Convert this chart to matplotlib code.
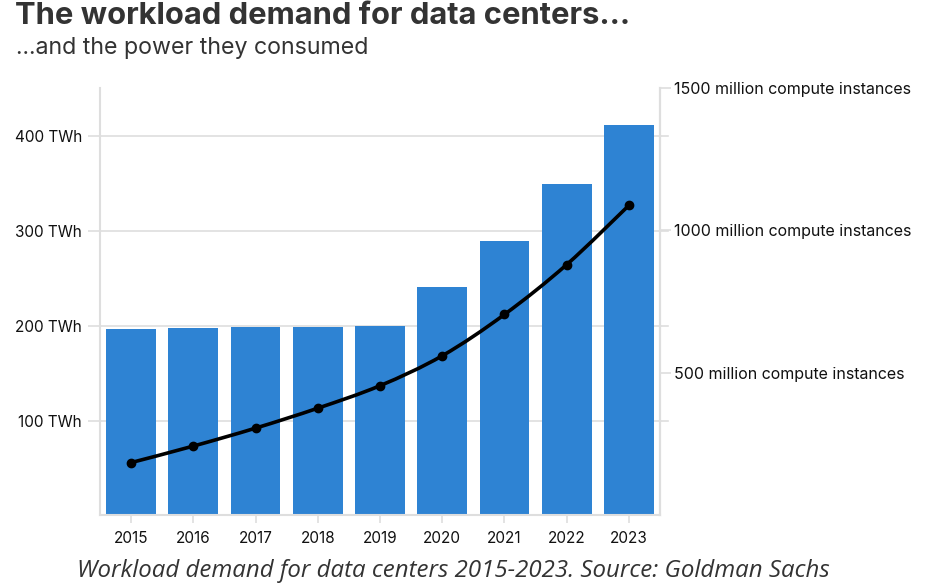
import matplotlib
matplotlib.use("Agg")
import matplotlib.pyplot as plt
import numpy as np
from matplotlib.path import Path
from matplotlib.patches import PathPatch

years = ["2015", "2016", "2017", "2018", "2019", "2020", "2021", "2022", "2023"]
power_twh = [197, 198, 199, 199, 200, 241, 290, 350, 412]
instances_m = [185, 243, 306, 376, 455, 560, 705, 880, 1088]
left_ticks = [100, 200, 300, 400]
left_labels = ["100 TWh", "200 TWh", "300 TWh", "400 TWh"]
right_ticks = [500, 1000, 1500]
right_labels = ["500 million compute instances", "1000 million compute instances",
                "1500 million compute instances"]

plt.rcParams['font.family'] = ['Inter', 'DejaVu Sans']
GRID = "#dedede"
BAR = "#2e83d3"

fig = plt.figure(figsize=(9.31, 5.85), dpi=100)
ax = fig.add_axes([100/931, 1-515.3/585, 560/931, (515.3-88)/585])
x = np.arange(len(years))
ax.set_xlim(-0.5, len(years)-0.5)
ax.set_ylim(0, 451)
for t in left_ticks:
    ax.axhline(t, xmin=0, xmax=1.015, color=GRID, lw=1.2, zorder=0.5, clip_on=False)
ax.bar(x, power_twh, width=0.8, color=BAR, zorder=2)

ax.set_yticks(left_ticks)
ax.set_yticklabels(left_labels)
ax.set_xticks(x)
ax.set_xticklabels(years)
ax.tick_params(axis='y', length=9, width=1.2, color=GRID, labelsize=11, pad=4, labelcolor="#111")
ax.tick_params(axis='x', length=6, width=1.2, color=GRID, labelsize=11, pad=5, labelcolor="#111")
for s in ['top']:
    ax.spines[s].set_visible(False)
for s in ['left', 'bottom', 'right']:
    ax.spines[s].set_color(GRID)
    ax.spines[s].set_linewidth(1.5)

ax2 = ax.twinx()
ax2.set_ylim(0, 1500)
ax2.set_yticks(right_ticks)
ax2.set_yticklabels(right_labels)
ax2.tick_params(axis='y', length=8, width=1.2, color=GRID, labelsize=11.5, pad=2, labelcolor="#111")
for s in ['top', 'left', 'bottom']:
    ax2.spines[s].set_visible(False)
ax2.spines['right'].set_color(GRID)
ax2.spines['right'].set_linewidth(1.5)

# smooth line through the data points (Catmull-Rom -> Bezier)
pts = np.column_stack([x, instances_m]).astype(float)
verts = [tuple(pts[0])]
codes = [Path.MOVETO]
n = len(pts)
for i in range(n-1):
    p0 = pts[i-1] if i > 0 else pts[i]
    p1 = pts[i]
    p2 = pts[i+1]
    p3 = pts[i+2] if i+2 < n else pts[i+1]
    c1 = p1 + (p2 - p0) / 6.0
    c2 = p2 - (p3 - p1) / 6.0
    verts += [tuple(c1), tuple(c2), tuple(p2)]
    codes += [Path.CURVE4]*3
ax2.add_patch(PathPatch(Path(verts, codes), fill=False, lw=2.6, color="black", zorder=3,
                        capstyle='round', joinstyle='round'))
ax2.plot(x, instances_m, 'o', color='black', ms=6, zorder=4)

fig.text(15/931, 1-2/585, "The workload demand for data centers...", fontsize=22.3,
         fontweight='bold', color="#333333", ha='left', va='top')
fig.text(16/931, 1-48/585, "...and the power they consumed", fontsize=16.7,
         color="#333333", ha='left', va='center')
fig.text(453/931, 1-571/585, "Workload demand for data centers 2015-2023. Source: Goldman Sachs",
         fontsize=17.3, style='italic', family=['Open Sans', 'DejaVu Sans'],
         color="#333333", ha='center', va='center')

fig.savefig("out.png", dpi=100)
